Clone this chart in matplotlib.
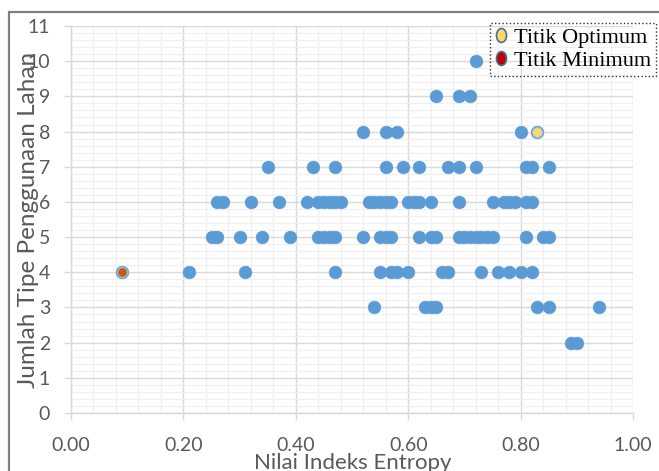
import matplotlib
matplotlib.use("Agg")
import matplotlib.pyplot as plt
from matplotlib.lines import Line2D
from matplotlib.path import Path
from matplotlib.patches import Rectangle
from matplotlib.transforms import Affine2D
from matplotlib.ticker import MultipleLocator, FormatStrFormatter

# Data, one row per land-use count
entropy = (
    [0.72] +
    [0.65, 0.69, 0.71] +
    [0.52, 0.56, 0.58, 0.80, 0.83] +
    [0.35, 0.43, 0.47, 0.56, 0.59, 0.62, 0.67, 0.69, 0.72, 0.81, 0.82, 0.85] +
    [0.26, 0.27, 0.32, 0.37, 0.42, 0.44, 0.45, 0.46, 0.47, 0.48, 0.53, 0.54, 0.55,
     0.56, 0.57, 0.60, 0.61, 0.62, 0.64, 0.69, 0.75, 0.77, 0.78, 0.79, 0.81, 0.82] +
    [0.25, 0.26, 0.30, 0.34, 0.39, 0.44, 0.45, 0.46, 0.47, 0.52, 0.55, 0.56, 0.57,
     0.62, 0.64, 0.65, 0.69, 0.70, 0.71, 0.72, 0.73, 0.74, 0.75, 0.81, 0.84, 0.85] +
    [0.09, 0.21, 0.31, 0.47, 0.55, 0.57, 0.58, 0.60, 0.66, 0.67, 0.73, 0.76, 0.78, 0.80, 0.82] +
    [0.54, 0.63, 0.64, 0.65, 0.83, 0.85, 0.94] +
    [0.89, 0.90]
)
jumlah_tipe = [10] * 1 + [9] * 3 + [8] * 5 + [7] * 12 + [6] * 26 + [5] * 26 + [4] * 15 + [3] * 7 + [2] * 2

optimum_x = [0.83]
optimum_y = [8]
minimum_x = [0.09]
minimum_y = [4]

legend_labels = ["Titik Optimum", "Titik Minimum"]

blue = "#5B9BD5"
grey_text = "#595959"

fig = plt.figure(figsize=(6.59, 4.71), dpi=100)
ax = fig.add_axes([71 / 659, 1 - 413 / 471, 562 / 659, 387 / 471])

# outer chart border (cut off at right and bottom in the reference)
fig.patches.append(Rectangle((9 / 659, -0.1), 1.2, 1 - 12 / 471 + 0.1, transform=fig.transFigure,
                             fill=False, edgecolor="#808080", linewidth=1.6))

ax.scatter(entropy, jumlah_tipe, s=82, color=blue, edgecolors=blue, linewidths=0.5, zorder=3)
ax.scatter(optimum_x, optimum_y, s=50, color="#FFD966", edgecolors="#9DC3E6", linewidths=0.8, zorder=4)
ax.scatter(minimum_x, minimum_y, s=50, color="#C55A11", edgecolors="#9DC3E6", linewidths=0.8, zorder=4)

ax.set_xlim(0, 1)
ax.set_ylim(0, 11)
ax.xaxis.set_major_locator(MultipleLocator(0.2))
ax.xaxis.set_minor_locator(MultipleLocator(0.04))
ax.yaxis.set_major_locator(MultipleLocator(1))
ax.yaxis.set_minor_locator(MultipleLocator(0.2))
ax.xaxis.set_major_formatter(FormatStrFormatter("%.2f"))

ax.grid(which="major", color="#D9D9D9", linewidth=1.0, zorder=0)
ax.grid(which="minor", color="#F0F0F0", linewidth=0.9, zorder=0)
ax.set_axisbelow(True)

for side in ["top", "right"]:
    ax.spines[side].set_visible(False)
for side in ["left", "bottom"]:
    ax.spines[side].set_color("#D9D9D9")
    ax.spines[side].set_linewidth(1.0)

ax.tick_params(which="major", direction="out", length=5, width=1.0, color="#D9D9D9",
               labelsize=14, labelcolor=grey_text)
ax.tick_params(which="minor", length=0)
ax.tick_params(axis="y", pad=10)
ax.tick_params(axis="x", pad=12)
for lab in ax.get_xticklabels() + ax.get_yticklabels():
    lab.set_fontfamily("Lato")

fig.text(29 / 659, 1 - 220 / 471, "Jumlah Tipe Penggunaan Lahan", rotation=90, ha="center", va="center",
         fontsize=17.5, color=grey_text, family="Lato")
fig.text(353 / 659, 1 - 469 / 471, "Nilai Indeks Entropy", ha="center", va="baseline",
         fontsize=16, color=grey_text, family="Lato")

# legend with oval markers
oval = Path.unit_circle().transformed(Affine2D().scale(0.72, 1.0))
handles = [
    Line2D([], [], linestyle="none", marker=oval, markersize=10, markerfacecolor="#FFD966",
           markeredgecolor="#41719C", markeredgewidth=1.2),
    Line2D([], [], linestyle="none", marker=oval, markersize=10, markerfacecolor="#C00000",
           markeredgecolor="#41719C", markeredgewidth=1.2),
]
leg = fig.legend(handles, legend_labels, loc="upper right", bbox_to_anchor=(656 / 659, 1 - 23 / 471),
                 prop={"family": "Liberation Serif", "size": 16}, frameon=True, fancybox=False,
                 borderpad=0.2, handlelength=0.6, handletextpad=0.3, labelspacing=0.12,
                 borderaxespad=0)
leg.get_frame().set_edgecolor("black")
leg.get_frame().set_linestyle(":")
leg.get_frame().set_linewidth(1.0)
leg.get_frame().set_facecolor("none")

fig.savefig("out.png", dpi=100)
